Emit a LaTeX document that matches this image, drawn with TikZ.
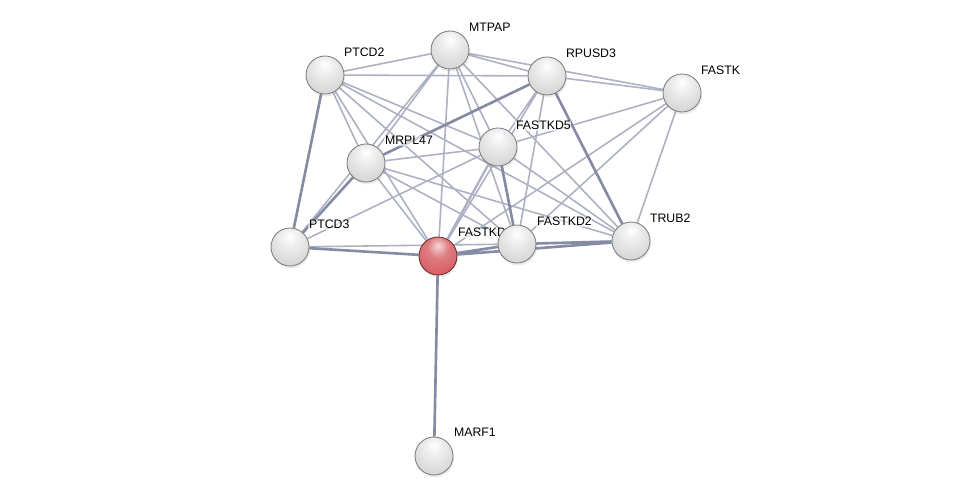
\documentclass[tikz,border=0pt]{standalone}
\usepackage{fontspec}
\setmainfont{Liberation Sans}
\usetikzlibrary{positioning,shadows}
\definecolor{linkgray}{HTML}{8C92AC}
\definecolor{queryred}{HTML}{D65C62}
\pgfdeclareradialshading{greyball}{\pgfpoint{0bp}{14bp}}{color(0bp)=(white); color(12bp)=(black!7); color(34bp)=(black!17); color(52bp)=(black!20); color(62bp)=(black!34); color(80bp)=(black!45)}
\pgfdeclareradialshading{redball}{\pgfpoint{0bp}{14bp}}{color(0bp)=(queryred!25!white); color(14bp)=(queryred!80!white); color(34bp)=(queryred); color(52bp)=(queryred!75!white); color(62bp)=(queryred!80!black); color(80bp)=(queryred!60!black)}
\pgfdeclarelayer{links}
\pgfdeclarelayer{names}
\pgfsetlayers{links,names,main}

\begin{document}
\begin{tikzpicture}[x=0.02cm,y=-0.02cm,font=\fontsize{7}{8}\selectfont,
    prot/.style={circle,minimum size=0.76cm,inner sep=0pt,draw=black!50,line width=0.5pt,shading=greyball,
      drop shadow={opacity=0.15,shadow xshift=0.02cm,shadow yshift=-0.05cm}},
    query/.style={prot,shading=redball,draw=queryred!50!black},
    protname/.style={inner sep=0.4pt,fill=white,fill opacity=0.6,text opacity=1},
    weak/.style={draw=linkgray!72,line width=0.9pt},
    strong/.style={draw=linkgray!95!black,line width=1.5pt}]
  \useasboundingbox (0,0) rectangle (976,500);

  \node[prot] (PTCD2) at (325,75) {};
  \node[prot] (MTPAP) at (450,50) {};
  \node[prot] (RPUSD3) at (547,76) {};
  \node[prot] (FASTK) at (682,93) {};
  \node[prot] (FASTKD5) at (498,147) {};
  \node[prot] (MRPL47) at (366,163) {};
  \node[prot] (PTCD3) at (290,247) {};
  \node[query] (FASTKD) at (438,256) {};
  \node[prot] (FASTKD2) at (517,244) {};
  \node[prot] (TRUB2) at (631,241) {};
  \node[prot] (MARF1) at (434,456) {};

  \begin{pgfonlayer}{names}
    \node[protname,anchor=south west,above right=0.34cm and 0.36cm of PTCD2.center] (PTCD2name) {PTCD2};
    \node[protname,anchor=south west,above right=0.34cm and 0.36cm of MTPAP.center] (MTPAPname) {MTPAP};
    \node[protname,anchor=south west,above right=0.34cm and 0.36cm of RPUSD3.center] (RPUSD3name) {RPUSD3};
    \node[protname,anchor=south west,above right=0.34cm and 0.36cm of FASTK.center] (FASTKname) {FASTK};
    \node[protname,anchor=south west,above right=0.32cm and 0.34cm of FASTKD5.center] (FASTKD5name) {FASTKD5};
    \node[protname,anchor=south west,above right=0.34cm and 0.36cm of MRPL47.center] (MRPL47name) {MRPL47};
    \node[protname,anchor=south west,above right=0.34cm and 0.36cm of PTCD3.center] (PTCD3name) {PTCD3};
    \node[protname,anchor=south west,above right=0.36cm and 0.38cm of FASTKD.center] (FASTKDname) {FASTKD};
    \node[protname,anchor=south west,above right=0.34cm and 0.38cm of FASTKD2.center] (FASTKD2name) {FASTKD2};
    \node[protname,anchor=south west,above right=0.34cm and 0.36cm of TRUB2.center] (TRUB2name) {TRUB2};
    \node[protname,anchor=south west,above right=0.36cm and 0.38cm of MARF1.center] (MARF1name) {MARF1};
  \end{pgfonlayer}

  \begin{pgfonlayer}{links}
    \draw[weak] (PTCD2) -- (MTPAP) (PTCD2) -- (RPUSD3) (PTCD2) -- (FASTKD5) (PTCD2) -- (TRUB2)
      (PTCD2) -- (MRPL47) (PTCD2) -- (FASTKD) (PTCD2) -- (FASTKD2);
    \draw[weak] (MTPAP) -- (RPUSD3) (MTPAP) -- (FASTK) (MTPAP) -- (MRPL47) (MTPAP) -- (PTCD3)
      (MTPAP) -- (FASTKD5) (MTPAP) -- (FASTKD2) (MTPAP) -- (TRUB2) (MTPAP) -- (FASTKD);
    \draw[weak] (RPUSD3) -- (FASTK) (RPUSD3) -- (FASTKD5) (RPUSD3) -- (FASTKD) (RPUSD3) -- (FASTKD2);
    \draw[weak] (FASTK) -- (FASTKD5) (FASTK) -- (FASTKD) (FASTK) -- (FASTKD2) (FASTK) -- (TRUB2);
    \draw[weak] (MRPL47) -- (FASTKD5) (MRPL47) -- (FASTKD) (MRPL47) -- (FASTKD2) (MRPL47) -- (TRUB2);
    \draw[weak] (PTCD3) -- (FASTKD5) (PTCD3) -- (FASTKD2) (FASTKD5) -- (TRUB2);
    \draw[weak,line width=1.3pt] (FASTKD5) -- (FASTKD);
    \draw[strong] (PTCD2) -- (PTCD3) (MRPL47) -- (PTCD3) (RPUSD3) -- (MRPL47) (RPUSD3) -- (TRUB2);
    \draw[strong] (FASTKD5) -- (FASTKD2) (FASTKD) -- (FASTKD2) (FASTKD) -- (TRUB2) (FASTKD2) -- (TRUB2);
    \draw[strong] (FASTKD) -- (MARF1) (FASTKD) -- (PTCD3);
  \end{pgfonlayer}
\end{tikzpicture}
\end{document}
